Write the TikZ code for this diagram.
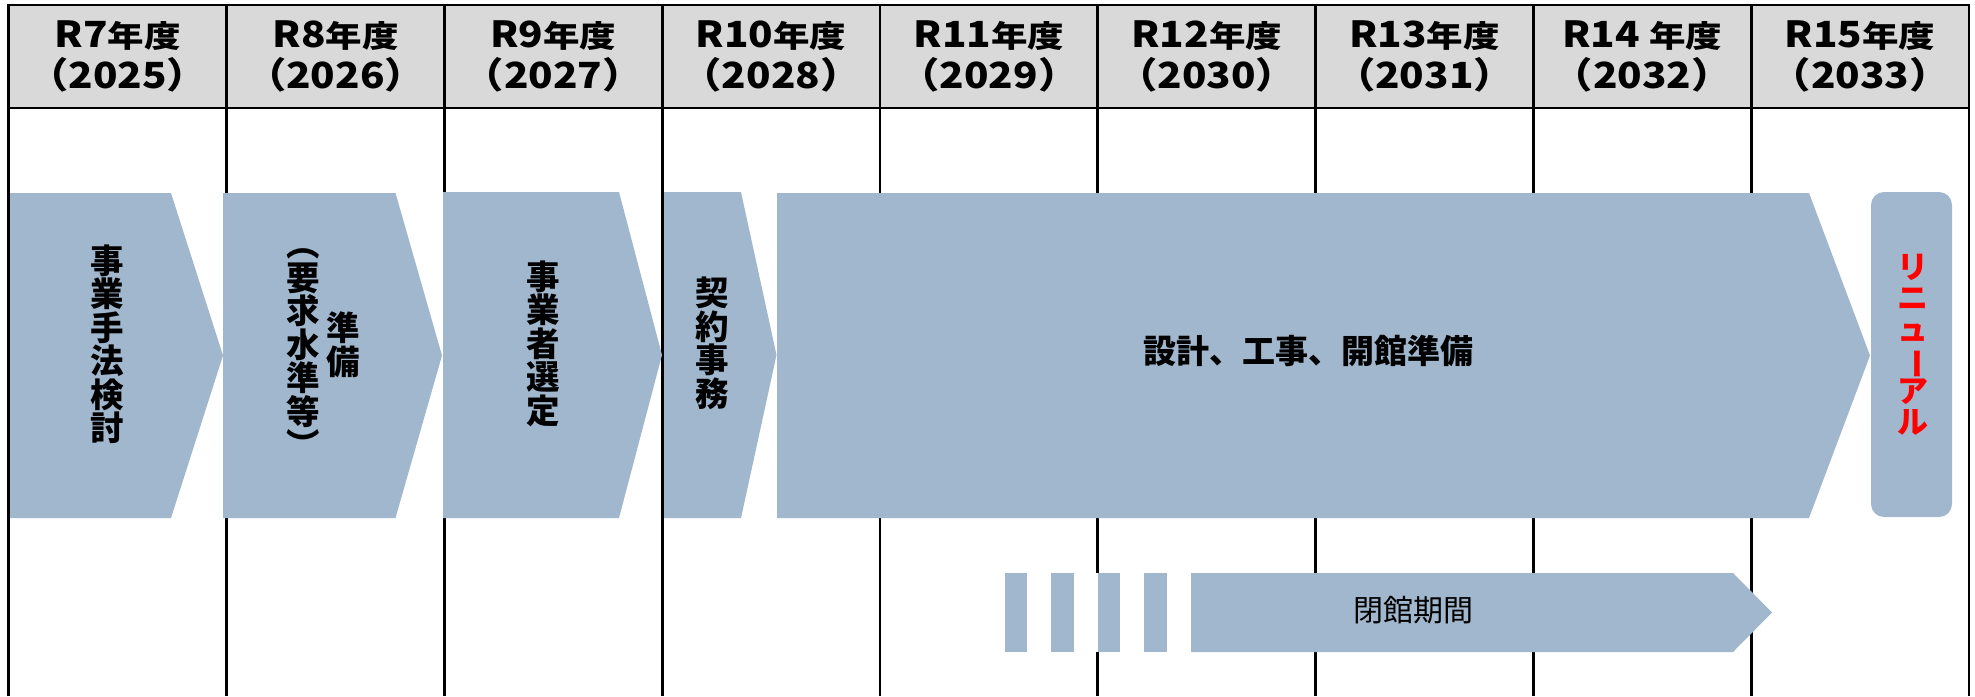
\documentclass[tikz,border=0pt]{standalone}
\usepackage{fontspec}
\usepackage{graphicx}
\setmainfont{Noto Sans CJK JP}
\definecolor{barblue}{RGB}{161,183,205}
\definecolor{hdrgray}{RGB}{217,217,217}
\definecolor{txtred}{RGB}{255,0,0}
\newcommand{\hdrtop}[2]{\scalebox{1.12}[1]{\fontsize{18}{18}\selectfont\bfseries #1}\scalebox{1.2}[1]{\fontsize{15.2}{15.2}\selectfont\bfseries #2}}
\newcommand{\hdrbot}[1]{\scalebox{1.12}[1]{\fontsize{18}{18}\selectfont\bfseries （#1）}}
\newcommand{\vfont}{\fontsize{16.75}{16.75}\selectfont\bfseries\lineskiplimit=-100pt\lineskip=0pt}
\newcommand{\rfont}{\fontsize{15.5}{15.5}\selectfont\bfseries\lineskiplimit=-100pt\lineskip=0pt}
\newcommand{\cjkph}{\vphantom{国}}
\tikzset{
  gridline/.style={line width=1.35pt, draw=black, line join=miter},
  bar/.style={fill=barblue, draw=none},
  vtxt/.style={align=center, inner sep=0pt, font=\vfont},
  rtxt/.style={align=center, inner sep=0pt, font=\rfont, text=txtred},
  htxt/.style={inner sep=0pt, font=\fontsize{16.5}{16.5}\selectfont\bfseries},
  ltxt/.style={inner sep=0pt, font=\fontsize{15}{15}\selectfont},
}
\begin{document}
\begin{tikzpicture}[x=0.5pt,y=-0.5pt]
\useasboundingbox (0,0) rectangle (1975,696);
% header background
\fill[hdrgray] (8.8,5) rectangle (1969,108);
% grid
\foreach \k in {1,...,8} \draw[gridline] ({8.8+217.8*\k},5) -- ({8.8+217.8*\k},696);
\draw[gridline] (8.8,696) -- (8.8,5) -- (1969,5) -- (1969,696);
\draw[gridline] (8.8,108) -- (1969,108);
% header texts
\foreach \k/\a/\b/\c in {0/R7/年度/2025, 1/R8/年度/2026, 2/R9/年度/2027, 3/R10/年度/2028, 4/R11/年度/2029, 5/R12/年度/2030, 6/R13/年度/2031, 7/R14\ /年度/2032, 8/R15/年度/2033} {
  \node[anchor=base, inner sep=0pt] (ha\k) at ({8.8+217.8*(\k+0.5)},47) {\hdrtop{\a}{\b}};
  \node[anchor=base, inner sep=0pt] (hb\k) at ({8.8+217.8*(\k+0.5)},88.3) {\hdrbot{\c}};
}
% process bars
\fill[bar] (10,193) -- (171,193) -- (223,355.5) -- (171,518) -- (10,518) -- cycle;
\fill[bar] (223,193) -- (395.5,193) -- (442,355.5) -- (395.5,518) -- (223,518) -- cycle;
\fill[bar] (443,192) -- (619,192) -- (662,355) -- (619,518) -- (443,518) -- cycle;
\fill[bar] (664,192) -- (741,192) -- (776.5,355) -- (741,518) -- (664,518) -- cycle;
\fill[bar] (777,193) -- (1809,193) -- (1870,355.5) -- (1809,518) -- (777,518) -- cycle;
\fill[bar, rounded corners=6.5pt] (1871,192) rectangle (1952,517);
% closing period bar
\fill[white] (1004,573) rectangle (1191,652);
\foreach \s in {1004.5,1051,1097.5,1144} \fill[bar] (\s,573) rectangle (\s+22.5,652);
\fill[bar] (1191,573) -- (1733,573) -- (1772,612.5) -- (1733,652) -- (1191,652) -- cycle;
% texts
\node[vtxt] (t1) at (107,344) {\cjkph 事\\業\\手\\法\\検\\討\cjkph};
\node[vtxt] (t2a) at (343.5,345) {\cjkph 準\\備\cjkph};
\node[vtxt] (t2b) at (303,345) {\cjkph ︵\\要\\求\\水\\準\\等\\\cjkph ︶};
\node[vtxt] (t3) at (543,343.5) {\cjkph 事\\業\\者\\選\\定\cjkph};
\node[vtxt] (t4) at (712,343.5) {\cjkph 契\\約\\事\\務\cjkph};
\node[htxt] (t5) at (1308.5,351) {設計、工事、開館準備};
\node[rtxt] (t6) at (1913,344.5) {\cjkph リ\\ニ\\ュ\\\rotatebox[origin=c]{-90}{ー}\\ア\\ル\cjkph};
\node[ltxt] (t7) at (1413,610) {閉館期間};
\end{tikzpicture}
\end{document}
